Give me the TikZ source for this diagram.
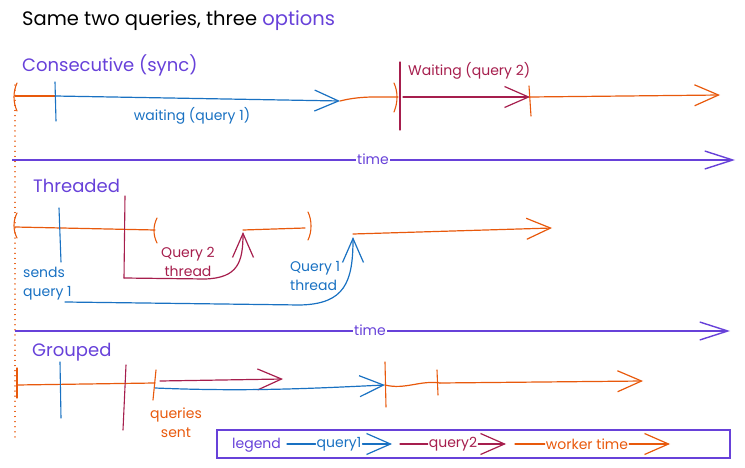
\documentclass[tikz,border=0pt]{standalone}
\usepackage{fontspec}
\setmainfont{Poppins}
\usetikzlibrary{arrows.meta}
\definecolor{cpurple}{HTML}{6741D9}
\definecolor{cblue}{HTML}{1971C2}
\definecolor{ccrim}{HTML}{A61E4D}
\definecolor{corange}{HTML}{E8590C}
\begin{document}
\begin{tikzpicture}[x=1pt,y=-1pt,
  ln/.style={line width=1.2pt, line cap=round},
  arr/.style={ln, -{Straight Barb[length=24pt,width=21pt,line width=1.2pt]}},
  tarr/.style={cpurple, line width=1.7pt, -{Straight Barb[length=28pt,width=18pt,line width=1.4pt]}},
  tk/.style={line width=1.1pt, line cap=round},
  lbl/.style={font=\fontsize{14}{19}\selectfont, inner sep=1pt},
  head/.style={font=\fontsize{18}{20}\selectfont, text=cpurple, anchor=west, inner sep=0pt},
  tlbl/.style={font=\fontsize{14}{16}\selectfont, text=cpurple, fill=white, inner sep=1pt}]
\useasboundingbox (0,0) rectangle (745,468);

% title
\node[anchor=west, inner sep=0pt, font=\fontsize{19.5}{22}\selectfont] (title) at (22,21) {Same two queries, three \textcolor{cpurple}{options}};

% dotted start line
\coordinate (d0) at (15,85);
\coordinate (d1) at (15,440);
\draw[corange, line width=1.3pt, line cap=round, dash pattern=on 0.1pt off 5pt] (d0) -- (d1);

% ===== Consecutive =====
\node[head] (h1) at (22,65) {Consecutive (sync)};
\coordinate (a0) at (15,96);
\coordinate (a1) at (55,96);
\coordinate (a2) at (340,101);
\coordinate (a3) at (398,97);
\coordinate (a3b) at (403,97);
\coordinate (a4) at (530,97);
\coordinate (a5) at (720,95);
\draw[corange, ln] (a0) -- (a1);
\draw[cblue, arr] (a1) -- (a2);
\draw[corange, ln] (a2) .. controls (360,96) and (375,97) .. (a3);
\draw[ccrim, arr] (a3b) -- (a4);
\draw[corange, arr] (a4) -- (a5);
% ticks
\draw[corange, tk] (17,83) .. controls (13,92) and (13,102) .. (17,111);
\draw[cblue, tk] (55,82) -- (56,121);
\draw[corange, tk] (394,83) .. controls (398,92) and (398,102) .. (394,112);
\draw[ccrim, tk] (400,62) -- (400,130);
\draw[corange, tk] (529,86) -- (531,116);
\node[lbl, text=cblue] (w1) at (192,116) {waiting (query 1)};
\node[lbl, text=ccrim, anchor=west] (w2) at (407,71) {Waiting (query 2)};

% time 1
\coordinate (t0) at (12,160);
\coordinate (t1) at (735,160);
\draw[tarr] (t0) -- (t1);
\node[tlbl] (tl1) at (373,159) {time};

% ===== Threaded =====
\node[head] (h2) at (33,186) {Threaded};
\coordinate (b0) at (15,227);
\coordinate (b1) at (155,230);
\coordinate (b2) at (243,230);
\coordinate (b3) at (305,228);
\coordinate (b4) at (353,234);
\coordinate (b5) at (552,228);
\draw[corange, ln] (b0) -- (b1);
\draw[corange, ln] (b2) -- (b3);
\draw[corange, arr] (b4) -- (b5);
\draw[corange, tk] (17,213) .. controls (13,221) and (13,230) .. (17,238);
\draw[cblue, tk] (59,208) -- (61,262);
\draw[ccrim, tk] (125,196) -- (124,278);
\draw[corange, tk] (157,218) .. controls (153,226) and (153,235) .. (157,243);
\draw[corange, tk] (308,212) .. controls (312,220) and (312,232) .. (308,240);
% thread arrows
\coordinate (q2s) at (124,278);
\coordinate (q2e) at (243,232);
\draw[ccrim, arr] (q2s) -- (205,279) .. controls (238,278) and (243,262) .. (q2e);
\coordinate (q1s) at (65,302);
\coordinate (q1e) at (353,237);
\draw[cblue, arr] (q1s) -- (300,305) .. controls (345,304) and (353,282) .. (q1e);
\node[lbl, text=ccrim, align=center] (q2l) at (188,262) {Query 2\\thread};
\node[lbl, text=cblue, align=left, anchor=west] (sq) at (22,284) {sends\\query 1};
\node[lbl, text=cblue, align=left, anchor=west] (q1l) at (289,276) {Query 1\\thread};

% time 2
\coordinate (u0) at (15,331);
\coordinate (u1) at (730,331);
\draw[tarr] (u0) -- (u1);
\node[tlbl] (tl2) at (370,330) {time};

% ===== Grouped =====
\node[head] (h3) at (32,352) {Grouped};
\coordinate (c0) at (17,385);
\coordinate (c1) at (155,383);
\coordinate (c2) at (160,381);
\coordinate (c3) at (283,379);
\coordinate (c4) at (155,388);
\coordinate (c5) at (385,385);
\coordinate (c6) at (440,383);
\coordinate (c7) at (643,381);
\draw[corange, ln] (c0) -- (c1);
\draw[ccrim, arr] (c2) -- (c3);
\draw[cblue, arr] (c4) .. controls (250,392) and (320,388) .. (c5);
\draw[corange, ln] (c5) .. controls (405,390) and (420,380) .. (c6);
\draw[corange, arr] (c6) -- (c7);
\draw[corange, tk] (17,368) -- (17,398);
\draw[cblue, tk] (60,362) -- (61,418);
\draw[ccrim, tk] (126,365) -- (123,430);
\draw[corange, tk] (156,370) -- (153,400);
\draw[corange, tk] (385,362) -- (386,407);
\draw[corange, tk] (437,370) -- (438,395);
\node[lbl, text=corange, align=center] (qs) at (176,423) {queries\\sent};

% ===== Legend =====
\node[draw=cpurple, line width=1.3pt, minimum width=513pt, minimum height=28pt, inner sep=0pt] (leg) at (473.5,444) {};
\node[lbl, text=cpurple, anchor=west] (lg) at (231,445) {legend};
\node[lbl, text=cblue] (lq1) at (339,444) {query1};
\coordinate (lq1a) at (287,444);
\coordinate (lq1b) at (392,444);
\draw[cblue, ln] (lq1a) -- (lq1.west);
\draw[cblue, arr] (lq1.east) -- (lq1b);
\node[lbl, text=ccrim] (lq2) at (453,444) {query2};
\coordinate (lq2a) at (400,444);
\coordinate (lq2b) at (506,444);
\draw[ccrim, ln] (lq2a) -- (lq2.west);
\draw[ccrim, arr] (lq2.east) -- (lq2b);
\node[lbl, text=corange] (lw) at (587,444) {worker time};
\coordinate (lwa) at (515,444);
\coordinate (lwb) at (670,444);
\draw[corange, ln] (lwa) -- (lw.west);
\draw[corange, arr] (lw.east) -- (lwb);
\end{tikzpicture}
\end{document}
